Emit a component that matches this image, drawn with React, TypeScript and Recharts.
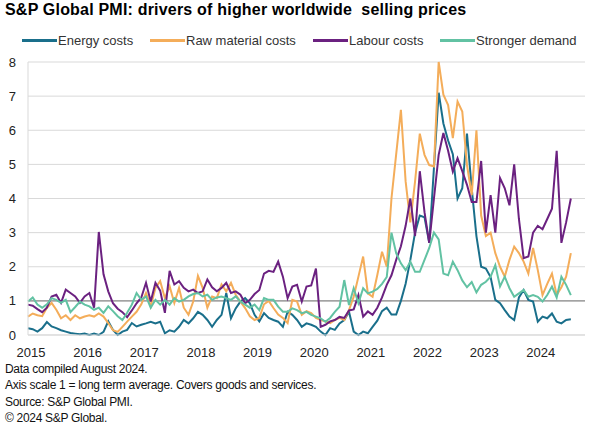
import { LineChart, Line, XAxis, YAxis, CartesianGrid, ReferenceLine } from 'recharts'

// monthly readings, Jan 2015 .. Aug 2024 (1 = long term average)
const years = ['2015', '2016', '2017', '2018', '2019', '2020', '2021', '2022', '2023', '2024']

const energyCosts = [
  0.2, 0.17, 0.1, 0.2, 0.38, 0.25, 0.2, 0.14, 0.1, 0.06, 0.04, 0.02,
  0.04, 0, 0.04, 0, 0.09, 0.4, 0.15, 0, 0.1, 0.15, 0.35, 0.25,
  0.3, 0.34, 0.39, 0.34, 0.39, 0.05, 0.14, 0.1, 0.24, 0.44, 0.34, 0.49,
  0.68, 0.59, 0.44, 0.24, 0.44, 0.59, 1.23, 0.49, 0.78, 0.98, 1.08, 0.93,
  0.59, 0.4, 0.64, 0.5, 0.44, 0.39, 0.24, 0.68, 0.59, 0.44, 0.24, 0.34,
  0.3, 0.24, 0.1, 0, 0.2, 0.15, 0.34, 0.44, 0.68, 0.1, 0, 0.1,
  0.05, 0.24, 0.42, 0.7, 0.8, 0.6, 0.6, 1.0, 1.5, 2.2, 3.0, 3.5,
  3.45, 2.7, 4.9, 7.1, 6.2, 5.7, 5.3, 4.0, 4.3, 5.9, 4.3, 2.9,
  2.0, 1.95, 1.7, 1.03, 0.93, 0.73, 0.54, 0.44, 1.1, 1.32, 1.03, 0.98,
  0.39, 0.54, 0.49, 0.63, 0.39, 0.34, 0.44, 0.46,
]

const rawMaterialCosts = [
  0.54, 0.63, 0.58, 0.55, 0.8, 0.94, 0.74, 0.49, 0.58, 0.44, 0.58, 0.49,
  0.54, 0.58, 0.54, 0.63, 0.54, 0.35, 0.14, 0.09, 0.24, 0.39, 0.54, 0.68,
  0.9, 1.23, 0.84, 1.38, 1.58, 1.08, 1.43, 0.94, 1.38, 0.8, 0.59, 0.98,
  1.73, 1.38, 0.8, 1.13, 1.08, 1.48, 1.28, 1.53, 1.18, 0.98, 0.79, 0.55,
  0.44, 0.5, 0.9, 1.0, 0.79, 0.6, 0.5, 0.35, 1.03, 0.98, 0.59, 0.7,
  0.64, 0.5, 0.44, 0.4, 0.35, 0.44, 0.5, 0.44, 0.73, 1.12, 1.71, 2.3,
  1.22, 1.12, 1.76, 2.44, 2.0, 4.0, 5.3, 6.6, 4.5, 3.3, 4.5, 5.9,
  5.28, 4.98, 4.94, 8.0, 7.04, 6.74, 5.77, 6.84, 6.55, 4.98, 4.1, 6.0,
  3.5, 2.9, 3.0, 2.4, 2.0, 1.71, 2.2, 2.59, 2.4, 2.15, 1.8, 2.55,
  1.9, 1.17, 1.5, 1.8, 1.17, 1.4, 1.71, 2.4,
]

const labourCosts = [
  0.89, 0.86, 0.76, 0.67, 0.8, 1.13, 1.18, 0.94, 1.33, 1.23, 1.13, 0.94,
  1.13, 1.23, 0.8, 3.02, 1.78, 1.28, 0.93, 0.77, 0.67, 0.52, 0.72, 0.93,
  1.1, 1.53, 0.98, 1.53, 1.3, 0.65, 1.88, 1.48, 1.58, 1.38, 1.28, 1.33,
  1.23, 1.28, 1.63, 1.4, 1.28, 1.38, 1.53, 1.23, 1.28, 1.18, 0.93, 1.03,
  1.2, 1.32, 1.8, 1.88, 1.85, 2.15, 1.71, 1.08, 1.42, 1.47, 0.98, 1.42,
  1.45, 1.95, 0.24, 0.3, 0.4, 0.44, 0.53, 0.5, 0.72, 0.75, 1.17, 0.54,
  0.69, 0.59, 0.8, 1.1, 1.47, 1.75, 2.2, 2.6, 3.2, 4.0, 2.9, 4.8,
  3.6, 2.7, 4.0, 5.28, 5.92, 5.4, 4.79, 5.18, 4.8, 4.4, 3.9, 3.9,
  5.1, 3.0, 4.1, 3.0, 4.6, 4.3, 3.8, 5.0, 3.4, 2.25, 2.3, 3.0,
  3.2, 3.1, 3.4, 3.7, 5.4, 2.7, 3.3, 4.0,
]

const strongerDemand = [
  0.98, 1.1, 0.89, 0.8, 0.9, 1.08, 1.03, 0.94, 1.03, 0.67, 0.82, 0.98,
  0.89, 0.84, 0.74, 0.8, 0.65, 0.84, 0.7, 0.55, 0.44, 0.65, 0.89, 1.23,
  1.03, 1.13, 0.8, 1.03, 0.89, 1.03, 0.89, 1.08, 0.98, 1.03, 1.13, 1.2,
  1.23, 1.13, 1.18, 1.03, 1.1, 1.13, 1.08, 1.03, 1.13, 0.98, 0.89, 0.8,
  0.89, 0.73, 1.08, 1.03, 1.03, 0.83, 0.68, 0.68, 0.78, 0.73, 0.64, 0.68,
  0.59, 0.54, 0.49, 0.39, 0.5, 0.68, 0.83, 1.61, 0.88, 1.37, 0.93, 1.37,
  1.22, 1.27, 1.35, 1.5, 1.7, 3.0, 2.4, 2.1, 1.9, 2.15, 1.85, 1.85,
  2.2, 2.55, 3.0, 2.8, 1.8, 1.75, 2.15, 1.9, 1.6, 1.4, 1.55, 1.25,
  1.47, 1.56, 1.71, 2.05, 1.42, 1.71, 1.37, 1.12, 1.22, 1.32, 1.12, 1.17,
  1.12, 0.98, 1.17, 1.42, 1.1, 1.71, 1.47, 1.17,
]

const yTicks = [0, 1, 2, 3, 4, 5, 6, 7, 8]

const SERIES = [
  { key: 'energy', name: 'Energy costs', color: '#1a6f8b', values: energyCosts },
  { key: 'raw', name: 'Raw material costs', color: '#f4ad5a', values: rawMaterialCosts },
  { key: 'labour', name: 'Labour costs', color: '#6b2180', values: labourCosts },
  { key: 'demand', name: 'Stronger demand', color: '#62c2a3', values: strongerDemand },
]

const LEGEND_X = [22, 150, 313, 440]

const FONT = '"Liberation Sans", Arial, sans-serif'

const data = energyCosts.map((_, i) => {
  const row: Record<string, number> = { m: i }
  SERIES.forEach((s) => { row[s.key] = s.values[i] })
  return row
})

export default function App() {
  return (
    <div style={{ position: 'absolute', left: 0, top: 0, width: 591, height: 427, background: '#fff', fontFamily: FONT, color: '#000' }}>
      <div style={{ position: 'absolute', left: 5, top: 1, fontSize: 16, fontWeight: 'bold', whiteSpace: 'nowrap', letterSpacing: 0.2 }}>
        S&amp;P Global PMI: drivers of higher worldwide&nbsp; selling prices
      </div>

      {SERIES.map((s, i) => (
        <div key={s.key} style={{ position: 'absolute', left: LEGEND_X[i], top: 33, display: 'flex', alignItems: 'center', fontSize: 13, color: '#333', whiteSpace: 'nowrap' }}>
          <span style={{ display: 'inline-block', width: 35, height: 2.5, background: s.color, marginRight: 1 }} />
          {s.name}
        </div>
      ))}

      <div style={{ position: 'absolute', left: 0, top: 0 }}>
        <LineChart width={591} height={427} data={data} margin={{ top: 62, right: 6, bottom: 62, left: 0 }}>
          <CartesianGrid vertical={false} stroke="#d9d9d9" />
          <XAxis
            dataKey="m"
            type="number"
            domain={[0, 118]}
            ticks={years.map((_, i) => i * 12)}
            tickFormatter={(v: number) => years[v / 12]}
            tick={{ fontSize: 13, fill: '#222', fontFamily: FONT, dx: 3 }}
            tickLine={false}
            tickMargin={7}
            axisLine={{ stroke: '#d9d9d9' }}
            height={30}
          />
          <YAxis
            domain={[0, 8]}
            ticks={yTicks}
            tick={{ fontSize: 13, fill: '#222', fontFamily: FONT }}
            tickLine={false}
            tickMargin={6}
            axisLine={{ stroke: '#d9d9d9' }}
            width={28}
          />
          <ReferenceLine y={1} stroke="#8c8c8c" strokeWidth={1.2} />
          {SERIES.map((s) => (
            <Line key={s.key} dataKey={s.key} name={s.name} stroke={s.color} strokeWidth={2}
              dot={false} type="linear" isAnimationActive={false} />
          ))}
        </LineChart>
      </div>

      <div style={{ position: 'absolute', left: 5, top: 361, fontSize: 12, lineHeight: '16px', letterSpacing: -0.3, color: '#111' }}>
        <div>Data compiled August 2024.</div>
        <div>Axis scale 1 = long term average. Covers goods and services.</div>
        <div style={{ marginTop: 1 }}>Source: S&amp;P Global PMI.</div>
        <div>© 2024 S&amp;P Global.</div>
      </div>
    </div>
  )
}
